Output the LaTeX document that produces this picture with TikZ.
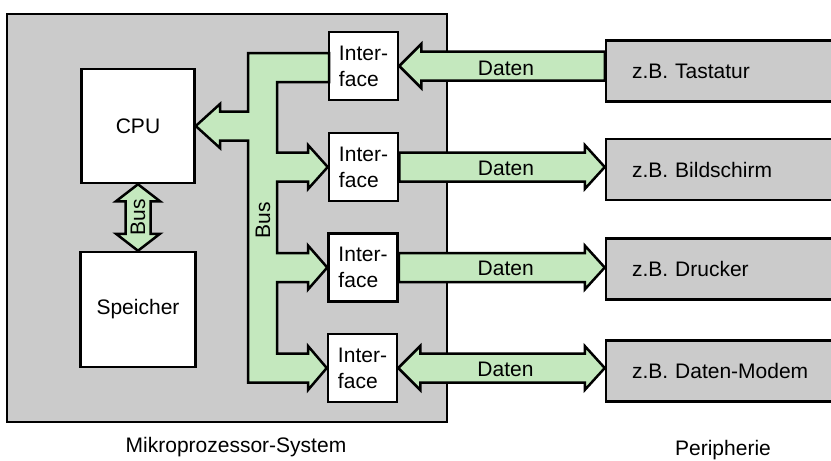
\documentclass[tikz,border=0pt]{standalone}
\usepackage{fontspec}
\setmainfont{Liberation Sans}
\usetikzlibrary{calc}
\definecolor{boxgray}{RGB}{203,203,203}
\definecolor{busgreen}{RGB}{196,232,190}
\begin{document}
\begin{tikzpicture}[x=1pt,y=-1pt,
  font=\fontsize{21}{26}\selectfont,
  outline/.style={draw=black,line width=2.5pt},
  whitebox/.style={outline,fill=white,rectangle,inner sep=0pt},
  ifbox/.style={whitebox,minimum width=69pt,minimum height=68pt,align=left},
  perbox/.style={outline,fill=boxgray,rectangle,minimum width=232pt,minimum height=61pt,text width=180pt,inner xsep=26pt,align=left},
  fat/.style={outline,fill=busgreen,line join=miter},
  lbl/.style={inner sep=1pt}
]
\useasboundingbox (0,0) rectangle (831,461);
\clip (0,0) rectangle (831,461);
% system frame
\node[outline,fill=boxgray,minimum width=440pt,minimum height=408pt,inner sep=0pt] (sys) at (227,218) {};
% boxes
\node[whitebox,minimum width=113pt,minimum height=114pt] (cpu) at (138,126) {CPU};
\node[whitebox,minimum width=115pt,minimum height=115pt] (mem) at (138,309.5) {Speicher};
\node[ifbox] (if1) at (363.5,66) {Inter-\\face};
\node[ifbox] (if2) at (363.5,167) {Inter-\\face};
\node[ifbox] (if3) at (363,267.5) {Inter-\\face};
\node[ifbox] (if4) at (362.5,368) {Inter-\\face};
\node[perbox] (tast) at (722,71) {z.B. Tastatur};
\node[perbox] (bild) at (722,169.5) {z.B. Bildschirm};
\node[perbox] (druck) at (722,269) {z.B. Drucker};
\node[perbox] (modem) at (722,371) {z.B. Daten-Modem};
% main bus
\draw[fat] (248,53) -- (329,53) -- (329,82) -- (277,82)
  -- (277,152.5) -- (308,152.5) -- (308,145) -- (if2.west) -- (308,189) -- (308,181.5) -- (277,181.5)
  -- (277,253) -- (308,253) -- (308,245.5) -- (if3.west) -- (308,289.5) -- (308,282) -- (277,282)
  -- (277,353.5) -- (308,353.5) -- (308,346) -- (if4.west) -- (308,390) -- (308,382.5) -- (248,382.5)
  -- (248,140.5) -- (220,140.5) -- (220,148) -- (cpu.east) -- (220,104) -- (220,111.5) -- (248,111.5) -- cycle;
% CPU - memory bus
\draw[fat] (cpu.south) -- ++(22,17) -- ++(-9.5,0) -- ($(mem.north)+(12.5,-17)$) -- ++(9.5,0) -- (mem.north)
  -- ++(-22,-17) -- ++(9.5,0) -- ($(cpu.south)+(-12.5,17)$) -- ++(-9.5,0) -- cycle;
% data arrows
\coordinate (t1) at (tast.west |- if1.east);
\coordinate (t2) at (bild.west |- if2.east);
\coordinate (t3) at (druck.west |- if3.east);
\coordinate (t4) at (modem.west |- if4.east);
\draw[fat] (if1.east) -- ++(22,-22) -- ++(0,7.5) -- ($(t1)+(0,-14.5)$) -- ($(t1)+(0,14.5)$)
  -- ($(if1.east)+(22,14.5)$) -- ++(0,7.5) -- cycle;
\draw[fat] (t2) -- ++(-20,-22) -- ++(0,7.5) -- ($(if2.east)+(0,-14.5)$) -- ($(if2.east)+(0,14.5)$)
  -- ($(t2)+(-20,14.5)$) -- ++(0,7.5) -- cycle;
\draw[fat] (t3) -- ++(-20,-22) -- ++(0,7.5) -- ($(if3.east)+(0,-14.5)$) -- ($(if3.east)+(0,14.5)$)
  -- ($(t3)+(-20,14.5)$) -- ++(0,7.5) -- cycle;
\draw[fat] (t4) -- ++(-20,-22) -- ++(0,7.5) -- ($(if4.east)+(22,-14.5)$) -- ++(0,-7.5) -- (if4.east)
  -- ++(22,22) -- ++(0,-7.5) -- ($(t4)+(-20,14.5)$) -- ++(0,7.5) -- cycle;
% labels
\node[lbl,rotate=90] (lbus) at ($(cpu.south)!0.5!(mem.north)$) {Bus};
\node[lbl,rotate=90] (bbus) at (263,220) {Bus};
\node[lbl] (d1) at ($(if1.east)!0.5!(t1)+(4,2)$) {Daten};
\node[lbl] (d2) at ($(if2.east)!0.5!(t2)+(4,1)$) {Daten};
\node[lbl] (d3) at ($(if3.east)!0.5!(t3)+(4,1)$) {Daten};
\node[lbl] (d4) at ($(if4.east)!0.5!(t4)+(4,1)$) {Daten};
\node (cap1) at (236,447) {Mikroprozessor-System};
\node (cap2) at (723,450) {Peripherie};
\end{tikzpicture}
\end{document}
